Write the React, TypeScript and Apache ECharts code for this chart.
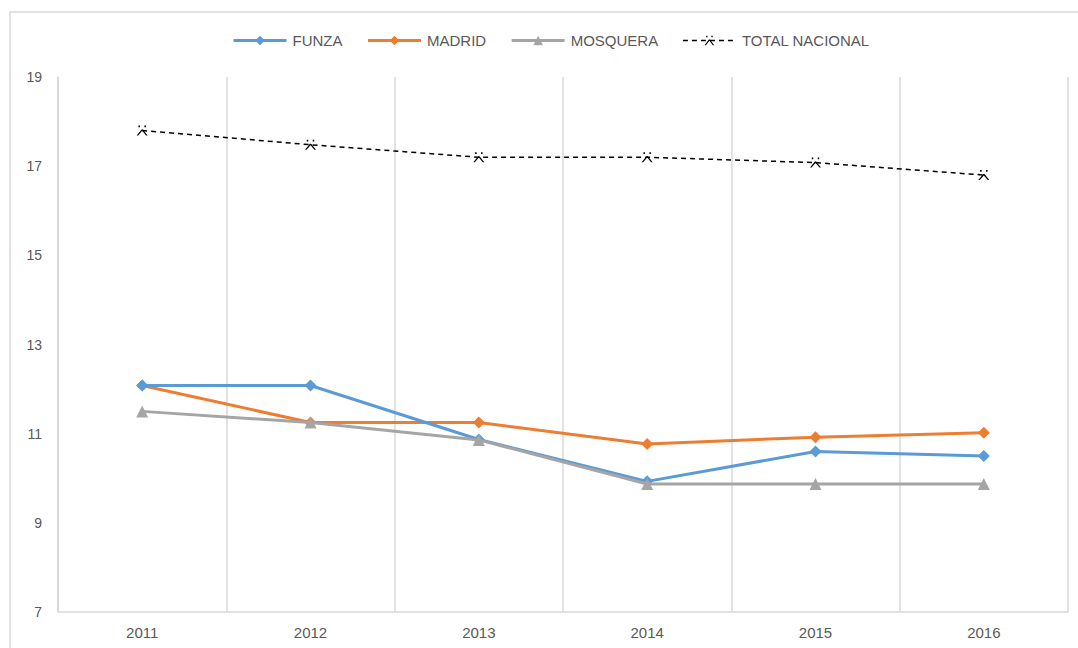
import React, { useEffect, useRef } from "react";
import * as echarts from "echarts";

const years = ["2011", "2012", "2013", "2014", "2015", "2016"];
const funza = [12.08, 12.08, 10.87, 9.93, 10.6, 10.5];
const madrid = [12.08, 11.25, 11.25, 10.77, 10.92, 11.02];
const mosquera = [11.5, 11.25, 10.86, 9.87, 9.87, 9.87];
const totalNacional = [17.8, 17.48, 17.2, 17.2, 17.08, 16.8];
const yMin = 7;
const yMax = 19;
const yStep = 2;

const starPath =
  "path://M0,10L4.4,4.2L5.6,4.2L10,10L8.6,10L5,5.6L1.4,10Z M1.6,0.5h1.4v1.6h-1.4Z M7,0.5h1.4v1.6h-1.4Z";

export default function App() {
  const ref = useRef<HTMLDivElement>(null);
  useEffect(() => {
    if (!ref.current) return;
    const chart = echarts.init(ref.current, undefined, { renderer: "svg" });
    const labelColor = "#595959";
    const font = "'Liberation Sans', Arial, sans-serif";
    chart.setOption({
      animation: false,
      backgroundColor: "#ffffff",
      textStyle: { fontFamily: font },
      graphic: [
        {
          type: "rect",
          shape: { x: 10, y: 12, width: 1080, height: 650 },
          style: { fill: "none", stroke: "#d9d9d9", lineWidth: 1.5 },
          silent: true,
          z: -10,
        },
      ],
      legend: {
        top: 28,
        left: 227,
        itemWidth: 53,
        itemHeight: 12,
        itemGap: 24,
        textStyle: { color: labelColor, fontSize: 15, fontFamily: font, padding: [0, 0, 0, 1] },
        data: [
          { name: "FUNZA", lineStyle: { width: 3 } },
          { name: "MADRID", lineStyle: { width: 3 } },
          { name: "MOSQUERA", lineStyle: { width: 3 } },
          { name: "TOTAL NACIONAL", lineStyle: { width: 1.5 } },
        ],
      },
      grid: { left: 58, right: 10, top: 77, bottom: 36, containLabel: false },
      xAxis: {
        type: "category",
        data: years,
        boundaryGap: true,
        axisLine: { show: true, lineStyle: { color: "#d9d9d9", width: 1.5 } },
        axisTick: { show: false },
        splitLine: { show: true, lineStyle: { color: "#d9d9d9", width: 1.5 } },
        axisLabel: { color: labelColor, fontSize: 15, margin: 13, fontFamily: font },
      },
      yAxis: {
        type: "value",
        min: yMin,
        max: yMax,
        interval: yStep,
        axisLine: { show: true, lineStyle: { color: "#d9d9d9", width: 1.5 } },
        axisTick: { show: false },
        splitLine: { show: false },
        axisLabel: { color: labelColor, fontSize: 14, margin: 16, fontFamily: font },
      },
      series: [
        {
          name: "FUNZA",
          type: "line",
          data: funza,
          symbol: "diamond",
          symbolSize: 12,
          itemStyle: { color: "#5b9bd5" },
          lineStyle: { color: "#5b9bd5", width: 3 },
          z: 3,
        },
        {
          name: "MADRID",
          type: "line",
          data: madrid,
          symbol: "diamond",
          symbolSize: 12,
          itemStyle: { color: "#ed7d31" },
          lineStyle: { color: "#ed7d31", width: 3 },
          z: 2,
        },
        {
          name: "MOSQUERA",
          type: "line",
          data: mosquera,
          symbol: "triangle",
          symbolSize: 12,
          itemStyle: { color: "#a5a5a5" },
          lineStyle: { color: "#a5a5a5", width: 3 },
          z: 4,
        },
        {
          name: "TOTAL NACIONAL",
          type: "line",
          data: totalNacional,
          symbol: starPath,
          symbolSize: [11, 10],
          itemStyle: { color: "#000000" },
          lineStyle: { color: "#000000", width: 1.5, type: [5, 4] },
          z: 5,
        },
      ],
    });
    return () => chart.dispose();
  }, []);
  return (
    <div
      ref={ref}
      style={{ position: "fixed", left: 0, top: 0, width: 1078, height: 648 }}
    />
  );
}
